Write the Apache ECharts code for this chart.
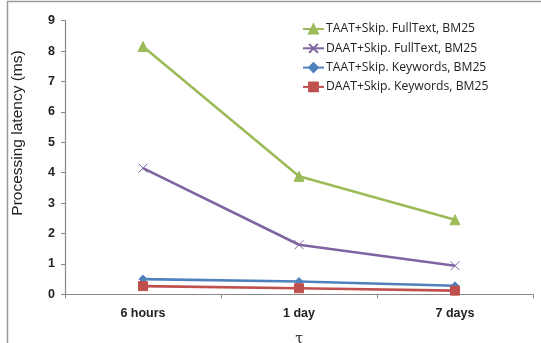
<!DOCTYPE html>
<html>
<head>
<meta charset="utf-8">
<script src="https://cdn.jsdelivr.net/npm/echarts@6/dist/echarts.min.js"></script>
<style>
  html, body { margin: 0; padding: 0; background: #fff; }
  #chart { width: 541px; height: 343px; }
</style>
</head>
<body>
<div id="chart"></div>
<script>
// Window lengths on the x axis
const categories = ['6 hours', '1 day', '7 days'];

// Processing latency in ms per configuration
const taatFullText = [8.15, 3.88, 2.45];
const daatFullText = [4.15, 1.63, 0.94];
const taatKeywords = [0.50, 0.42, 0.28];
const daatKeywords = [0.27, 0.20, 0.12];

const seriesNames = [
  'TAAT+Skip. FullText, BM25',
  'DAAT+Skip. FullText, BM25',
  'TAAT+Skip. Keywords, BM25',
  'DAAT+Skip. Keywords, BM25'
];

const yTicks = { min: 0, max: 9, interval: 1 };

const chart = echarts.init(document.getElementById('chart'), null, { renderer: 'canvas' });

function line(name, data, color, symbol, size) {
  return {
    name: name,
    type: 'line',
    data: data,
    symbol: symbol,
    symbolSize: size,
    showSymbol: true,
    lineStyle: { color: color, width: 2.6 },
    itemStyle: { color: color, borderColor: color, borderWidth: 1 },
    emphasis: { disabled: true },
    animation: false,
    z: 3
  };
}

chart.setOption({
  backgroundColor: '#ffffff',
  animation: false,
  graphic: [
    {
      type: 'polyline',
      shape: { points: [[7.5, 343], [7.5, 1.5], [541, 1.5]] },
      style: { stroke: '#9a9a9a', lineWidth: 1.5, fill: null },
      silent: true
    },
    {
      type: 'text',
      x: 18,
      y: 133,
      rotation: Math.PI / 2,
      style: {
        text: 'Processing latency (ms)',
        fill: '#222',
        font: '15.5px "Liberation Sans", Arial, sans-serif',
        align: 'center',
        verticalAlign: 'middle'
      },
      silent: true
    }
  ],
  legend: {
    orient: 'vertical',
    left: 302,
    top: 23,
    padding: 0,
    itemGap: 7.3,
    itemWidth: 21,
    itemHeight: 11,
    textStyle: { fontFamily: 'Open Sans, Liberation Sans, sans-serif', fontSize: 12.2, color: '#222', padding: [0, 0, 0, -3] },
    data: seriesNames.map(n => ({ name: n }))
  },
  grid: { left: 65, right: 8, top: 20.7, bottom: 48.7, containLabel: false, outerBoundsMode: 'none' },
  xAxis: {
    type: 'category',
    data: categories,
    boundaryGap: true,
    name: 'τ',
    nameLocation: 'middle',
    nameGap: 38,
    nameTextStyle: { fontFamily: 'DejaVu Serif, Liberation Serif, serif', fontSize: 14, color: '#222' },
    axisLine: { lineStyle: { color: '#888', width: 1.2 } },
    axisTick: { show: true, length: 4, alignWithLabel: false, lineStyle: { color: '#888' } },
    axisLabel: { fontFamily: 'Liberation Sans, Arial, sans-serif', fontWeight: 'bold', fontSize: 12.5, color: '#222', margin: 13 },
    splitLine: { show: false }
  },
  yAxis: {
    type: 'value',
    min: yTicks.min,
    max: yTicks.max,
    interval: yTicks.interval,
    axisLine: { show: true, lineStyle: { color: '#888', width: 1.2 } },
    axisTick: { show: true, length: 4, lineStyle: { color: '#888' } },
    axisLabel: { fontFamily: 'Liberation Sans, Arial, sans-serif', fontWeight: 'bold', fontSize: 12.5, color: '#222', margin: 10 },
    splitLine: { show: false }
  },
  series: [
    line(seriesNames[0], taatFullText, '#9BBB59', 'triangle', 10),
    line(seriesNames[1], daatFullText, '#8064A2', 'path://M0,0 L10,10 M10,0 L0,10', 9),
    line(seriesNames[2], taatKeywords, '#4F81BD', 'diamond', 8),
    line(seriesNames[3], daatKeywords, '#C0504D', 'rect', 9)
  ]
});
</script>
</body>
</html>
